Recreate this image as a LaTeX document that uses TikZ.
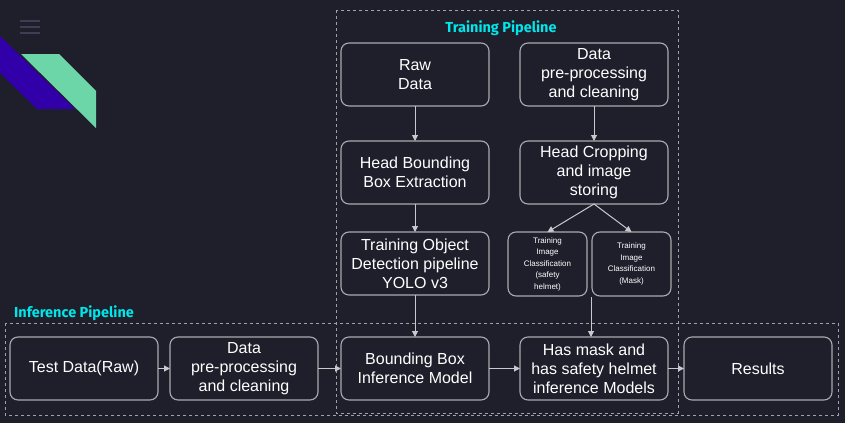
\documentclass[tikz,border=0pt]{standalone}
\usepackage{fontspec}
\setmainfont{Liberation Sans}
\newfontfamily\titlefont{Fira Sans}
\usetikzlibrary{positioning,calc,arrows.meta}

\definecolor{bgdark}{RGB}{30,31,43}
\definecolor{boxline}{RGB}{170,170,175}
\definecolor{arrowgray}{RGB}{200,200,205}
\definecolor{dashgray}{RGB}{160,160,168}
\definecolor{titlecyan}{RGB}{0,230,235}
\definecolor{logogreen}{RGB}{108,214,168}
\definecolor{logopurple}{RGB}{49,0,168}
\definecolor{menugray}{RGB}{60,62,85}

\tikzset{
  stage/.style={draw=boxline, line width=1.1pt, fill=bgdark, rounded corners=8pt,
    minimum width=148pt, minimum height=63pt, inner sep=0pt, outer sep=0pt,
    align=center, text=white, font=\fontsize{16}{19}\selectfont},
  smallstage/.style={stage, minimum width=79pt, minimum height=64pt,
    font=\fontsize{8}{11.5}\selectfont},
  flow/.style={draw=arrowgray, line width=1pt, -{Triangle[length=6pt,width=6pt]}},
  pipeline/.style={draw=dashgray, line width=1pt, dash pattern=on 3pt off 3pt},
  pipetitle/.style={text=titlecyan, font=\titlefont\bfseries\fontsize{14.5}{16}\selectfont, inner sep=0pt},
}

\begin{document}
\begin{tikzpicture}[x=1pt,y=-1pt]

  % Background
  \fill[bgdark] (0,0) rectangle (845,423);
  \useasboundingbox (0,0) rectangle (845,423);

  % Logo and menu
  \fill[logopurple] (0,36) -- (75,109) -- (37,109) -- (0,73) -- cycle;
  \fill[logogreen] (21,54) -- (59,54) -- (96,91) -- (96,128) -- cycle;
  \foreach \y in {21,27,33}
    \draw[menugray, line width=1.3pt] (20,\y) -- (40,\y);

  % Define nodes

  % Training pipeline
  \node[stage] at (415,74.5) (raw) {Raw\\Data}; %
  \node[stage, right=31pt of raw] (prep) {Data\\pre-processing\\and cleaning}; %
  \node[stage, below=35pt of raw] (headbb) {Head Bounding\\Box Extraction}; %
  \node[stage, below=35pt of prep] (crop) {Head Cropping\\and image\\storing}; %
  \node[stage, below=28pt of headbb] (yolo) {Training Object\\Detection pipeline\\YOLO v3}; %

  % Classification models
  \node[smallstage, below=28pt of crop, xshift=-46.5pt] (helmet) {Training\\Image\\Classification\\(safety\\helmet)}; %
  \node[smallstage, right=5pt of helmet] (mask) {Training\\Image\\Classification\\(Mask)}; %
  \coordinate (cls) at ($(helmet.south east)!0.5!(mask.south west)+(1.5,1)$);

  % Inference pipeline
  \node[stage, below=42pt of yolo] (bbinf) {Bounding Box\\Inference Model}; %
  \node[stage, left=23pt of bbinf] (prepinf) {Data\\pre-processing\\and cleaning}; %
  \node[stage, left=12pt of prepinf] (test) {Test Data(Raw)}; %
  \node[stage, right=31pt of bbinf] (hasmask) {Has mask and\\has safety helmet\\inference Models}; %
  \node[stage, right=16pt of hasmask] (results) {Results}; %

  % Pipelines
  \draw[pipeline] (336,10) rectangle (678,413);
  \draw[pipeline] (5,323) rectangle (838,415);
  \node[pipetitle] at (501,28) (traintitle) {Training Pipeline};
  \node[pipetitle, anchor=west] at (14,313) (inftitle) {Inference Pipeline};

  % Edges
  \draw[flow] (raw) -- (headbb);
  \draw[flow] (prep) -- (crop);
  \draw[flow] (headbb) -- (yolo);
  \draw[flow] (crop.south) -- (helmet.north);
  \draw[flow] (crop.south) -- (mask.north);
  \draw[flow] (yolo) -- (bbinf);
  \draw[flow] (cls) -- (cls |- hasmask.north);
  \draw[flow] (test) -- (prepinf);
  \draw[flow] (prepinf) -- (bbinf);
  \draw[flow] (bbinf) -- (hasmask);
  \draw[flow] (hasmask) -- (results);

\end{tikzpicture}
\end{document}
